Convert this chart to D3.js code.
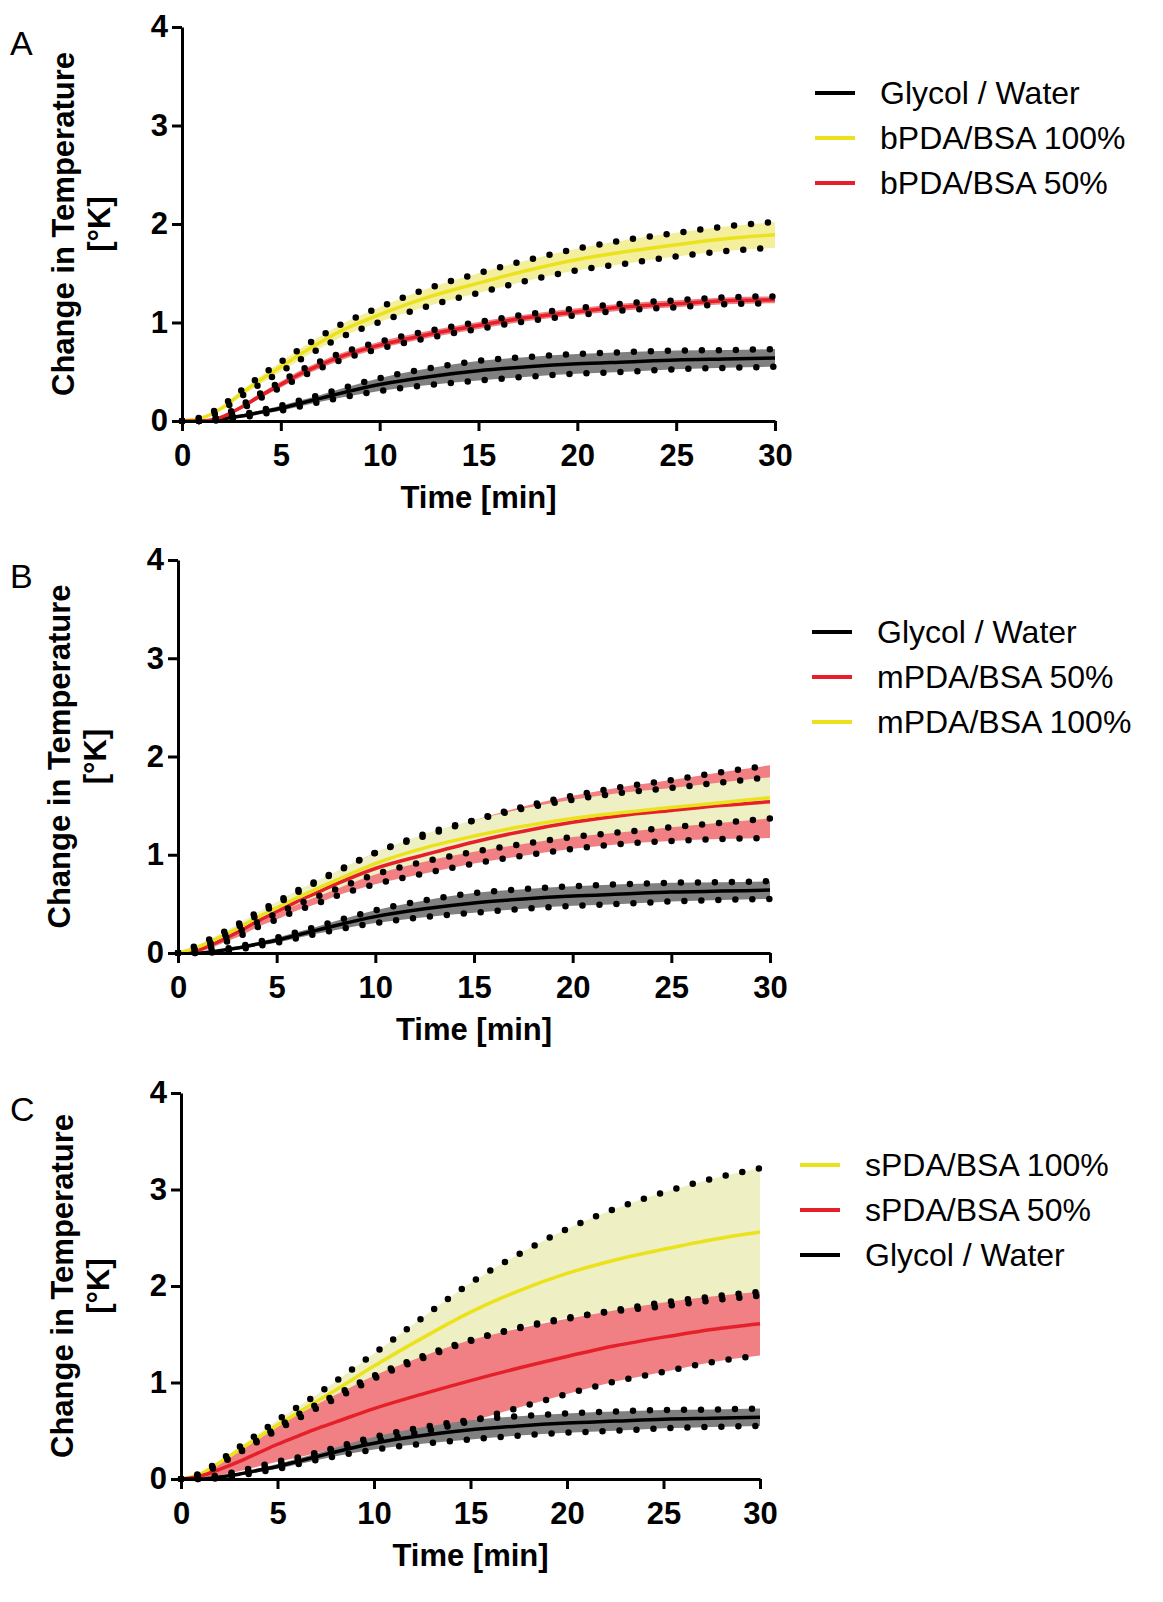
<!DOCTYPE html>
<html>
<head>
<meta charset="utf-8">
<script src="https://cdn.jsdelivr.net/npm/d3@7"></script>
<style>
  body { margin: 0; background: #fff; }
  svg { display: block; }
  text { font-family: "Liberation Sans", Arial, sans-serif; }
</style>
</head>
<body>
<svg id="chart" width="1163" height="1602"></svg>
<script>
// time points (min)
const times = [0, 1, 2, 3, 4, 5, 6, 7, 8, 10, 12.5, 15, 17.5, 20, 22.5, 25, 27.5, 30];

// Glycol / Water control (same in all panels)
const glycolMean = [0, 0, 0.02, 0.05, 0.09, 0.13, 0.18, 0.23, 0.28, 0.37, 0.45, 0.51, 0.55, 0.58, 0.60, 0.62, 0.63, 0.64];
const glycolSd   = [0, 0, 0.01, 0.015, 0.02, 0.025, 0.03, 0.035, 0.045, 0.065, 0.085, 0.10, 0.10, 0.10, 0.10, 0.095, 0.09, 0.09];

// panel A
const bpda100Mean = [0, 0.03, 0.13, 0.28, 0.42, 0.55, 0.68, 0.80, 0.91, 1.08, 1.26, 1.40, 1.53, 1.64, 1.72, 1.79, 1.85, 1.89];
const bpda100Sd   = [0, 0.01, 0.02, 0.03, 0.04, 0.05, 0.055, 0.06, 0.065, 0.075, 0.09, 0.10, 0.105, 0.11, 0.12, 0.12, 0.125, 0.13];
const bpda50Mean  = [0, 0, 0.04, 0.14, 0.26, 0.37, 0.48, 0.57, 0.65, 0.77, 0.88, 0.97, 1.05, 1.11, 1.16, 1.19, 1.22, 1.23];
const bpda50Sd    = [0, 0, 0.01, 0.02, 0.025, 0.03, 0.035, 0.035, 0.035, 0.035, 0.035, 0.035, 0.035, 0.035, 0.035, 0.035, 0.035, 0.035];

// panel B
const mpda100Mean = [0, 0.06, 0.15, 0.25, 0.36, 0.46, 0.56, 0.65, 0.74, 0.91, 1.07, 1.19, 1.29, 1.37, 1.43, 1.48, 1.53, 1.58];
const mpda100Sd   = [0, 0.02, 0.03, 0.04, 0.05, 0.06, 0.07, 0.08, 0.09, 0.11, 0.14, 0.16, 0.18, 0.19, 0.20, 0.20, 0.205, 0.21];
const mpda50Mean  = [0, 0.03, 0.11, 0.21, 0.32, 0.42, 0.52, 0.61, 0.70, 0.86, 1.00, 1.13, 1.24, 1.33, 1.40, 1.45, 1.50, 1.54];
const mpda50Sd    = [0, 0.02, 0.03, 0.05, 0.06, 0.08, 0.09, 0.11, 0.12, 0.16, 0.19, 0.22, 0.25, 0.27, 0.29, 0.31, 0.34, 0.37];

// panel C
const spda100Mean = [0, 0.05, 0.17, 0.30, 0.43, 0.56, 0.68, 0.80, 0.92, 1.17, 1.46, 1.73, 1.95, 2.13, 2.27, 2.38, 2.48, 2.56];
const spda100Sd   = [0, 0.01, 0.02, 0.03, 0.04, 0.05, 0.06, 0.07, 0.09, 0.13, 0.21, 0.30, 0.38, 0.46, 0.53, 0.59, 0.63, 0.66];
const spda50Mean  = [0, 0.03, 0.10, 0.18, 0.27, 0.36, 0.44, 0.52, 0.59, 0.73, 0.88, 1.02, 1.15, 1.27, 1.38, 1.47, 1.55, 1.61];
const spda50Sd    = [0, 0.02, 0.06, 0.10, 0.14, 0.18, 0.22, 0.25, 0.28, 0.34, 0.39, 0.42, 0.41, 0.39, 0.37, 0.36, 0.34, 0.33];

const xTicks = [0, 5, 10, 15, 20, 25, 30];
const yTicks = [0, 1, 2, 3, 4];
const xTitle = "Time [min]";
const yTitle = ["Change in Temperature", "[°K]"];

const colors = {
  black:  { line: "#000000", band: "#808080" },
  yellow: { line: "#ebe21c", band: "#eeefc3" },
  yellowA:{ line: "#ebe21c", band: "#f3ef9c" },
  red:    { line: "#e5202a", band: "#f08083" }
};

// series listed in legend order, which is also the drawing order
const panels = [
  { label: "A", x0: 182, x1: 775, y0: 421, y1: 27, lx: 815, ly: 93,
    series: [
      { name: "Glycol / Water", mean: glycolMean, sd: glycolSd, c: colors.black },
      { name: "bPDA/BSA 100%", mean: bpda100Mean, sd: bpda100Sd, c: colors.yellowA },
      { name: "bPDA/BSA 50%", mean: bpda50Mean, sd: bpda50Sd, c: colors.red }
    ] },
  { label: "B", x0: 178, x1: 770, y0: 953, y1: 560, lx: 812, ly: 632,
    series: [
      { name: "Glycol / Water", mean: glycolMean, sd: glycolSd, c: colors.black },
      { name: "mPDA/BSA 50%", mean: mpda50Mean, sd: mpda50Sd, c: colors.red },
      { name: "mPDA/BSA 100%", mean: mpda100Mean, sd: mpda100Sd, c: colors.yellow }
    ] },
  { label: "C", x0: 181, x1: 760, y0: 1479, y1: 1093, lx: 800, ly: 1165,
    series: [
      { name: "sPDA/BSA 100%", mean: spda100Mean, sd: spda100Sd, c: colors.yellow },
      { name: "sPDA/BSA 50%", mean: spda50Mean, sd: spda50Sd, c: colors.red },
      { name: "Glycol / Water", mean: glycolMean, sd: glycolSd, c: colors.black }
    ] }
];

const svg = d3.select("#chart");

function drawPanel(p) {
  const g = svg.append("g");
  const x = d3.scaleLinear().domain([0, 30]).range([p.x0, p.x1]);
  const y = d3.scaleLinear().domain([0, 4]).range([p.y0, p.y1]);

  const rows = s => times.map((t, i) => ({ t: t, m: s.mean[i], s: s.sd[i] }));

  const band = d3.area()
    .x(d => x(d.t))
    .y0(d => y(Math.max(0, d.m - d.s)))
    .y1(d => y(d.m + d.s))
    .curve(d3.curveMonotoneX);
  const mid = d3.line().x(d => x(d.t)).y(d => y(d.m)).curve(d3.curveMonotoneX);
  const upper = d3.line().x(d => x(d.t)).y(d => y(d.m + d.s)).curve(d3.curveMonotoneX);
  const lower = d3.line().x(d => x(d.t)).y(d => y(Math.max(0, d.m - d.s))).curve(d3.curveMonotoneX);

  // shaded SD bands
  p.series.forEach(s => {
    g.append("path").attr("d", band(rows(s))).attr("fill", s.c.band);
  });
  // mean lines
  p.series.forEach(s => {
    g.append("path").attr("d", mid(rows(s)))
      .attr("fill", "none").attr("stroke", s.c.line).attr("stroke-width", 3.5);
  });
  // dotted SD edges
  p.series.forEach(s => {
    [upper, lower].forEach(fn => {
      g.append("path").attr("d", fn(rows(s)))
        .attr("fill", "none").attr("stroke", "#000")
        .attr("stroke-width", 6.5).attr("stroke-linecap", "round")
        .attr("stroke-dasharray", "0 17");
    });
  });

  // axes
  const ax = g.append("g").attr("transform", `translate(0,${p.y0})`)
    .call(d3.axisBottom(x).tickValues(xTicks).tickFormat(d3.format("d"))
      .tickSize(10).tickSizeOuter(0).tickPadding(13));
  const ay = g.append("g").attr("transform", `translate(${p.x0},0)`)
    .call(d3.axisLeft(y).tickValues(yTicks).tickFormat(d3.format("d"))
      .tickSize(10).tickSizeOuter(0).tickPadding(4));
  [ax, ay].forEach(a => {
    a.select(".domain").attr("stroke-width", 3).attr("stroke", "#000");
    a.selectAll(".tick line").attr("stroke-width", 3).attr("stroke", "#000");
    a.selectAll(".tick text")
      .attr("font-family", "Liberation Sans, Arial, sans-serif")
      .attr("font-size", 31).attr("font-weight", "bold").attr("fill", "#000");
  });

  // axis titles
  g.append("text").attr("x", (p.x0 + p.x1) / 2).attr("y", p.y0 + 87)
    .attr("text-anchor", "middle").attr("font-size", 31).attr("font-weight", "bold")
    .text(xTitle);
  const cy = (p.y0 + p.y1) / 2;
  yTitle.forEach((t, i) => {
    const bx = p.x0 - 108 + i * 36;
    g.append("text").attr("transform", `translate(${bx},${cy}) rotate(-90)`)
      .attr("text-anchor", "middle").attr("font-size", 31).attr("font-weight", "bold")
      .text(t);
  });

  // panel letter
  g.append("text").attr("x", 10).attr("y", p.y1 + 28)
    .attr("font-size", 34).text(p.label);

  // legend
  p.series.forEach((s, i) => {
    const ly = p.ly + i * 45;
    g.append("line").attr("x1", p.lx).attr("x2", p.lx + 40)
      .attr("y1", ly).attr("y2", ly)
      .attr("stroke", s.c.line).attr("stroke-width", 4);
    g.append("text").attr("x", p.lx + 65).attr("y", ly + 11)
      .attr("font-size", 32).text(s.name);
  });
}

panels.forEach(drawPanel);
</script>
</body>
</html>
